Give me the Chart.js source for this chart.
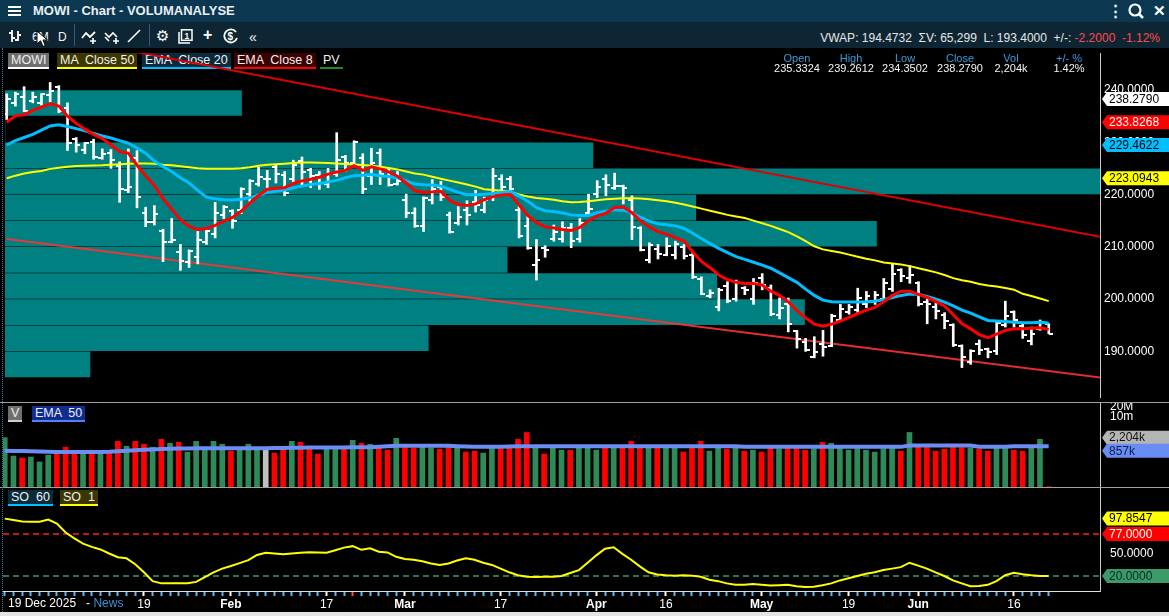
<!DOCTYPE html>
<html>
<head>
<meta charset="utf-8">
<title>MOWI - Chart - VOLUMANALYSE</title>
<script src="https://cdn.jsdelivr.net/npm/chart.js"></script>
<style>
  html, body { margin: 0; padding: 0; background: #000; }
  body { width: 1169px; height: 616px; overflow: hidden; position: relative;
         font-family: 'Liberation Sans', Arial, sans-serif; color: #eee; }
  .abs { position: absolute; }
  canvas { position: absolute; left: 0; z-index: 3; }
  #titlebar { left: 0; top: 0; width: 1169px; height: 22px; background: #0b3850; }
  #toolbar { left: 0; top: 22px; width: 1169px; height: 26px; background: #0e2634; }
  .ttl { left: 33px; top: 3px; font-size: 13px; font-weight: bold; color: #e8eef2; }
  .tb { color: #f2f2f2; font-size: 12px; top: 30px; }
  .sep { width: 1px; height: 22px; top: 24px; background: #2b5d7c; }
  .lg { height: 14px; line-height: 14px; font-size: 12.5px; color: #f0f0f0; padding: 0 3px;
        border-bottom: 2px solid; white-space: pre; z-index: 1; }
  .hd { font-size: 11px; color: #3a9ad9; text-align: center; width: 60px; z-index: 5; }
  .hv { font-size: 11px; color: #f4f4f4; text-align: center; width: 60px; z-index: 5; }
  .hline { left: 0; width: 1169px; height: 1px; background: #a0a0a0; z-index: 4; }
</style>
</head>
<body>
<div id="titlebar" class="abs"></div>
<div id="toolbar" class="abs"></div>

<!-- title bar -->
<svg class="abs" style="left:8px;top:5px" width="14" height="12"><rect y="1" width="13" height="2" fill="#fff"/><rect y="5" width="13" height="2" fill="#fff"/><rect y="9" width="13" height="2" fill="#fff"/></svg>
<div class="abs ttl">MOWI - Chart - VOLUMANALYSE</div>
<div class="abs" style="left:1108px;top:2px;font-size:15px;font-weight:bold;color:#fff">&#8942;</div>
<svg class="abs" style="left:1128px;top:3px" width="16" height="16"><circle cx="7" cy="7" r="5.5" fill="none" stroke="#fff" stroke-width="2.2"/><line x1="11" y1="11" x2="15" y2="15" stroke="#fff" stroke-width="2.5"/><text x="5" y="10.5" font-size="8" font-weight="bold" fill="#0b3850" font-family="Liberation Sans">1</text></svg>
<div class="abs" style="left:1153px;top:2px;font-size:15px;font-weight:bold;color:#fff">&#10005;</div>

<!-- toolbar -->
<svg class="abs" style="left:8px;top:29px" width="14" height="14"><path d="M4 1V13M1 4H4M4 9H7M10 2V12M10 6H13M10 11H7" stroke="#fff" stroke-width="1.8" fill="none"/></svg>
<div class="abs tb" style="left:32px">6M</div>
<div class="abs tb" style="left:58px">D</div>
<div class="abs sep" style="left:74px"></div>
<svg class="abs" style="left:81px;top:29px" width="17" height="15"><path d="M1 9L5 4L9 8L14 3" stroke="#fff" stroke-width="1.8" fill="none"/><path d="M12 9V15M9 12H15" stroke="#fff" stroke-width="1.6"/></svg>
<svg class="abs" style="left:104px;top:29px" width="17" height="15"><path d="M1 4L5 8L9 4L13 8M1 8L5 12" stroke="#fff" stroke-width="1.6" fill="none"/><path d="M12 9V15M9 12H15" stroke="#fff" stroke-width="1.6"/></svg>
<svg class="abs" style="left:127px;top:29px" width="14" height="14"><path d="M1 13L13 1" stroke="#fff" stroke-width="1.6"/></svg>
<div class="abs sep" style="left:149px"></div>
<div class="abs" style="left:156px;top:27px;font-size:15px;color:#fff;font-family:'DejaVu Sans'">&#9881;</div>
<svg class="abs" style="left:178px;top:29px" width="15" height="15"><rect x="3.5" y="0.8" width="10.5" height="10.5" fill="none" stroke="#fff" stroke-width="1.5"/><path d="M1 3V14H12" stroke="#fff" stroke-width="1.5" fill="none"/><text x="6.5" y="9.5" font-size="8.5" font-weight="bold" fill="#fff" font-family="Liberation Sans">1</text></svg>
<div class="abs" style="left:203px;top:26px;font-size:16px;font-weight:bold;color:#fff">+</div>
<svg class="abs" style="left:223px;top:28px" width="16" height="16"><path d="M13 4A6.5 6.5 0 1 0 14 10" stroke="#fff" stroke-width="1.8" fill="none"/><text x="4.5" y="12" font-size="10" font-weight="bold" fill="#fff" font-family="Liberation Sans">$</text></svg>
<div class="abs tb" style="left:249px;top:29px;font-size:14px">&#171;</div>
<svg class="abs" style="left:36px;top:30px;z-index:9" width="12" height="18"><path d="M1 1V14L4.5 10.8L7 16.5L9.3 15.5L7 10H11.5Z" fill="#fff" stroke="#000" stroke-width="1"/></svg>
<div class="abs" id="vwap" style="right:9px;top:31px;font-size:12px;color:#e6e6e6;white-space:pre"></div>

<!-- legends (under the canvases so the trend line crosses them) -->
<div class="abs lg" style="left:8px;top:53px;background:#6f6f6f;border-color:#fff">MOWI</div>
<div class="abs lg" style="left:57px;top:53px;background:#3b3700;border-color:#ffff00">MA  Close 50</div>
<div class="abs lg" style="left:142px;top:53px;background:#0a2b3b;border-color:#00bfff">EMA  Close 20</div>
<div class="abs lg" style="left:234px;top:53px;background:#3b0000;border-color:#ff0000">EMA  Close 8</div>
<div class="abs lg" style="left:320px;top:53px;background:#000;border-color:#1e8c1e">PV</div>
<div class="abs lg" style="left:8px;top:406px;background:#6f6f6f;border-color:#cfcfcf">V</div>
<div class="abs lg" style="left:32px;top:406px;background:#0f2d8f;border-color:#5a7cff">EMA  50</div>
<div class="abs lg" style="left:8px;top:490px;background:#0a2b3b;border-color:#00bfff">SO  60</div>
<div class="abs lg" style="left:60px;top:490px;background:#3b3700;border-color:#ffff00">SO  1</div>

<canvas id="price" width="1169" height="354" style="top:48px"></canvas>
<div class="abs hline" style="top:402px"></div>
<canvas id="vol" width="1169" height="84" style="top:403px"></canvas>
<div class="abs hline" style="top:487px"></div>
<canvas id="so" width="1169" height="124" style="top:488px"></canvas>
<div class="abs" style="left:0;top:612px;width:1169px;height:4px;background:#e4e4e4"></div>
<div class="abs" style="left:2px;top:48px;width:0;height:564px;border-left:1px dotted #2f86c0;z-index:4"></div>

<!-- info header -->
<div id="info"></div>

<div class="abs" style="left:8px;top:596px;font-size:12px;color:#fff;white-space:pre;z-index:5">19 Dec 2025   - <span style="color:#3d8fd6">News</span></div>

<script>
// trading days shown on the axis
const tradingDays = {
  '2025-12': [19, 22, 23, 29, 30],
  '2026-01': [2, 5, 6, 7, 8, 9, 12, 13, 14, 15, 16, 19, 20, 21, 22, 23, 26, 27, 28, 29, 30],
  '2026-02': [2, 3, 4, 5, 6, 9, 10, 11, 12, 13, 16, 17, 18, 19, 20, 23, 24, 25, 26, 27],
  '2026-03': [2, 3, 4, 5, 6, 9, 10, 11, 12, 13, 16, 17, 18, 19, 20, 23, 24, 25, 26, 27, 30, 31],
  '2026-04': [1, 7, 8, 9, 10, 13, 14, 15, 16, 17, 20, 21, 22, 23, 24, 27, 28, 29, 30],
  '2026-05': [4, 5, 6, 7, 8, 11, 12, 13, 15, 18, 19, 20, 21, 22, 26, 27, 28, 29],
  '2026-06': [1, 2, 3, 4, 5, 8, 9, 10, 11, 12, 15, 16, 17, 18, 19, 22]
};
const dates = [];
Object.keys(tradingDays).forEach(m => tradingDays[m].forEach(d => dates.push(m + '-' + String(d).padStart(2, '0'))));

const tickDates = ['2026-01-19', '2026-02-02', '2026-02-17', '2026-03-02', '2026-03-17', '2026-04-01',
                   '2026-04-16', '2026-05-04', '2026-05-19', '2026-06-01', '2026-06-16'];
const tickText = ['19', 'Feb', '17', 'Mar', '17', 'Apr', '16', 'May', '19', 'Jun', '16'];
const newsDates = ['2026-02-20'];

const opens = [
  235.3324, 237.5, 238.6, 237.8, 237.5, 239.0, 240.6, 236.5, 230.6, 228.5,
  230.0, 227.0, 228.0, 225.5, 220.8, 227.0, 216.5, 214.8, 213.0, 211.0,
  209.0, 207.0, 208.0, 211.0, 212.5, 216.0, 216.9, 217.0, 220.0, 222.0,
  223.0, 225.2, 223.7, 223.0, 226.5, 224.6, 223.8, 222.0, 224.0, 227.2,
  226.0, 227.0, 223.5, 228.0, 224.5, 222.0, 219.0, 216.5, 214.0, 219.0,
  221.5, 216.0, 214.5, 217.0, 218.5, 217.0, 220.0, 223.0, 222.9, 217.0,
  214.0, 206.5, 209.8, 211.5, 211.5, 213.5, 211.5, 216.5, 220.0, 223.0,
  221.2, 221.6, 219.0, 213.5, 207.5, 209.5, 208.5, 208.5, 210.0, 208.5,
  203.8, 200.5, 198.5, 202.5, 200.0, 202.2, 200.0, 204.0, 202.2, 197.0,
  199.0, 193.8, 191.8, 189.0, 191.5, 191.0, 196.0, 197.5, 198.0, 199.0,
  199.5, 200.0, 202.0, 205.5, 204.0, 203.0, 199.5, 198.5, 197.0, 195.0,
  191.0, 188.0, 191.5, 190.4, 190.0, 195.0, 197.5, 194.8, 192.0, 194.2,
  195.2
];
const highs = [
  239.2612, 239.57, 240.62, 239.57, 239.26, 241.42, 240.8, 237.52, 230.89, 229.96,
  230.58, 228.72, 228.6, 226.25, 228.72, 228.4, 217.57, 217.88, 213.36, 215.4,
  210.45, 209.4, 212.93, 213.24, 218.5, 217.88, 217.08, 221.29, 222.84, 225.2,
  224.6, 225.6, 224.39, 226.56, 227.17, 225.01, 224.39, 225.0, 231.82, 227.48,
  230.27, 227.8, 228.85, 228.72, 225.0, 224.4, 220.05, 217.45, 219.55, 222.84,
  222.53, 216.64, 217.69, 218.81, 220.79, 219.5, 225.0, 223.77, 223.46, 217.88,
  216.0, 211.38, 210.2, 214.16, 214.78, 214.47, 215.4, 220.05, 222.65, 223.77,
  224.08, 221.79, 219.74, 213.85, 210.76, 210.45, 211.69, 211.07, 210.45, 208.9,
  204.25, 201.77, 202.08, 203.32, 203.63, 202.39, 203.94, 204.87, 202.7, 200.23,
  200.2, 194.0, 192.48, 192.8, 194.03, 197.1, 198.98, 198.98, 202.08, 201.46,
  201.46, 203.94, 206.73, 205.8, 206.42, 203.32, 200.23, 199.3, 197.4, 195.27,
  191.24, 190.3, 192.17, 190.62, 195.6, 199.6, 197.74, 195.2, 194.65, 196.0,
  195.27
];
const lows = [
  234.3502, 236.9, 235.85, 237.52, 237.09, 237.71, 235.66, 228.41, 228.1, 227.79,
  226.74, 226.74, 225.0, 218.5, 220.36, 217.45, 213.85, 214.16, 207.16, 210.76,
  205.49, 206.05, 206.73, 210.45, 211.69, 215.4, 213.55, 216.33, 218.5, 221.6,
  220.85, 222.2, 219.74, 222.22, 221.6, 221.29, 220.98, 221.3, 223.46, 224.39,
  225.32, 220.18, 221.91, 221.91, 221.6, 221.8, 215.59, 213.73, 212.92, 218.19,
  218.81, 212.61, 214.16, 214.16, 216.64, 216.5, 218.8, 220.67, 220.36, 211.69,
  209.52, 203.63, 208.0, 211.07, 210.88, 209.83, 210.88, 216.02, 219.43, 219.74,
  220.98, 218.19, 211.38, 209.2, 206.92, 207.66, 208.28, 207.66, 207.66, 203.94,
  200.84, 200.23, 197.75, 199.3, 199.6, 200.84, 198.99, 201.77, 196.82, 196.2,
  193.72, 190.62, 190.0, 188.76, 189.07, 190.9, 195.9, 197.1, 197.4, 198.37,
  198.98, 199.6, 201.46, 203.32, 203.01, 198.68, 195.27, 196.2, 194.34, 190.93,
  186.9, 187.52, 189.38, 188.76, 189.38, 194.65, 194.65, 192.48, 191.24, 194.03,
  193.4
];
const closes = [
  238.279, 239.26, 235.97, 238.64, 239.13, 239.88, 236.0, 229.9, 229.5, 229.8,
  227.18, 227.8, 226.56, 221.0, 221.5, 219.55, 214.78, 216.33, 210.88, 211.38,
  207.35, 209.2, 211.38, 212.93, 216.5, 217.57, 215.0, 221.0, 222.53, 223.27,
  223.0, 224.0, 220.36, 225.63, 224.39, 223.5, 222.22, 224.08, 226.56, 226.0,
  229.96, 220.98, 226.0, 224.0, 221.9, 222.5, 216.5, 213.9, 219.4, 221.0,
  219.6, 212.9, 215.7, 216.0, 217.9, 219.0, 223.5, 221.5, 221.0, 212.0,
  209.8, 207.5, 209.3, 212.9, 213.5, 211.07, 214.5, 217.3, 221.4, 221.9,
  221.6, 221.29, 213.85, 209.4, 210.4, 208.6, 210.14, 210.45, 208.28, 204.25,
  200.97, 201.16, 201.77, 199.6, 203.0, 201.77, 203.0, 202.7, 197.1, 198.2,
  195.3, 192.3, 190.3, 189.8, 190.9, 196.8, 198.06, 198.4, 200.2, 200.5,
  200.84, 203.0, 204.87, 204.5, 204.56, 198.98, 198.98, 197.74, 195.9, 191.24,
  189.0, 190.0, 190.3, 189.8, 195.4, 196.8, 196.0, 193.1, 193.4, 195.6,
  193.4
];
const ma50 = [
  223.0943, 223.6, 224.0, 224.3, 224.5, 224.9, 225.1, 225.3, 225.45, 225.5,
  225.55, 225.6, 225.7, 225.8, 225.9, 225.95, 225.95, 225.9, 225.7, 225.6,
  225.4, 225.2, 225.0, 224.9, 224.9, 224.9, 224.9, 225.0, 225.2, 225.5,
  225.7, 225.8, 225.9, 226.0, 226.1, 226.1, 226.05, 226.0, 225.95, 225.85,
  225.75, 225.65, 225.5, 225.3, 225.05, 224.8, 224.4, 224.0, 223.8, 223.4,
  223.0, 222.65, 222.3, 221.9, 221.5, 221.0, 220.85, 220.7, 220.55, 220.0,
  219.6, 219.35, 219.2, 219.0, 218.7, 218.5, 218.55, 218.7, 218.9, 219.1,
  219.2, 219.3, 219.3, 219.25, 219.1, 218.9, 218.7, 218.4, 218.1, 217.7,
  217.3, 216.9, 216.5, 216.1, 215.8, 215.5, 215.0, 214.5, 214.0, 213.4,
  212.8, 212.0, 211.1, 210.1, 209.5, 209.2, 208.9, 208.5, 208.1, 207.7,
  207.4, 207.0, 206.8, 206.6, 206.3, 205.9, 205.5, 205.1, 204.6, 204.0,
  203.6, 203.3, 202.9, 202.6, 202.4, 202.1, 201.8, 201.0, 200.6, 200.1,
  199.6
];
const ema20 = [
  229.4622, 230.3, 230.9, 231.5, 232.3, 233.1, 233.35, 233.0, 232.6, 232.2,
  231.7, 231.2, 230.8, 230.3, 229.8, 228.9, 227.9, 226.4, 225.3, 224.4,
  223.2, 222.2, 220.8, 219.5, 219.2, 219.0, 218.95, 219.1, 219.4, 219.9,
  220.4, 220.6, 220.85, 221.3, 221.6, 221.9, 222.1, 222.4, 222.7, 223.2,
  223.6, 223.7, 223.8, 223.6, 223.45, 223.2, 222.6, 222.0, 221.85, 221.8,
  221.6, 221.0, 220.4, 219.95, 219.95, 220.05, 220.2, 220.4, 220.55, 219.7,
  218.7, 217.5, 216.9, 216.75, 216.45, 216.1, 216.0, 216.0, 216.5, 216.8,
  217.1, 217.0, 216.5, 215.6, 214.9, 214.4, 214.2, 214.0, 213.5, 212.6,
  211.6, 210.6, 209.7, 208.9, 208.1, 207.6, 207.05, 206.5, 205.9, 205.0,
  204.1, 203.2, 201.9, 200.7, 199.8, 199.5, 199.45, 199.45, 199.45, 199.5,
  199.6, 199.9, 200.3, 200.7, 200.95, 200.9, 200.5, 200.0, 199.4, 198.7,
  197.9, 197.3, 196.6, 195.9, 195.8, 195.7, 195.55, 195.45, 195.45, 195.55,
  195.4
];
const ema8 = [
  233.8268, 235.04, 235.23, 236.1, 236.7, 237.35, 236.9, 235.0, 233.6, 232.5,
  231.5, 230.7, 229.5, 228.2, 227.9, 225.6, 223.6, 221.7, 219.2, 217.2,
  215.2, 213.9, 213.3, 213.5, 214.1, 214.9, 215.6, 216.8, 218.4, 219.8,
  221.0, 221.2, 221.3, 222.1, 222.6, 222.9, 223.3, 223.9, 224.3, 224.6,
  225.5, 224.6, 225.3, 224.9, 224.3, 223.5, 222.2, 220.7, 220.4, 220.5,
  220.6, 218.9, 218.1, 217.9, 218.2, 219.0, 219.6, 219.9, 220.0, 218.0,
  216.0, 214.6, 213.8, 213.6, 213.3, 213.1, 213.7, 215.0, 215.9, 216.4,
  217.5, 217.6, 216.5, 214.9, 213.8, 212.9, 212.4, 211.7, 211.1, 209.0,
  207.2, 206.0, 204.6, 203.7, 203.2, 203.0, 203.0, 202.7, 201.5, 200.7,
  199.5, 197.8, 196.4, 195.2, 194.8, 195.2, 195.8, 196.5, 197.2, 197.9,
  198.4, 199.5, 200.7, 201.5, 201.5, 200.9, 200.3, 199.5, 198.7, 197.0,
  195.3, 194.3, 193.2, 192.6, 193.3, 194.0, 194.3, 194.3, 194.4, 194.5,
  194.2
];
// volume in thousands of shares
const volumes = [
  2204, 590, 513, 550, 387, 633, 782, 1113, 750, 760,
  740, 770, 800, 1698, 1194, 1698, 1375, 1113, 1956, 1475,
  1582, 782, 1698, 1000, 1698, 1375, 839, 966, 1375, 950,
  901, 729, 980, 1698, 1582, 1037, 679, 1020, 1000, 1040,
  1822, 1475, 1375, 1100, 901, 2098, 1080, 1050, 1100, 1060,
  966, 1090, 1060, 782, 839, 729, 1037, 1000, 1060, 1956,
  3202, 1194, 679, 1113, 901, 901, 1080, 1050, 901, 1100,
  1060, 1120, 1698, 1090, 1080, 1100, 1060, 1040, 782, 1100,
  1698, 839, 1070, 966, 1080, 839, 901, 782, 1037, 1000,
  1020, 1050, 901, 1000, 1582, 1475, 1037, 901, 1020, 901,
  782, 1000, 1040, 839, 3202, 1113, 1090, 839, 966, 1100,
  1080, 1060, 966, 839, 1090, 1080, 901, 839, 1037, 1956,
  65.3
];
const volEma50 = [
  857, 850, 840, 830, 815, 800, 790, 785, 782, 782,
  785, 790, 800, 830, 860, 890, 920, 950, 980, 1000,
  1010, 1020, 1030, 1037, 1040, 1040, 1040, 1040, 1040, 1040,
  1040, 1045, 1055, 1065, 1075, 1085, 1090, 1090, 1090, 1095,
  1100, 1100, 1110, 1150, 1200, 1225, 1225, 1225, 1225, 1225,
  1225, 1225, 1200, 1170, 1150, 1140, 1140, 1150, 1170, 1185,
  1190, 1190, 1190, 1190, 1190, 1190, 1190, 1190, 1190, 1190,
  1190, 1190, 1190, 1190, 1190, 1190, 1190, 1190, 1190, 1190,
  1190, 1190, 1190, 1190, 1190, 1140, 1140, 1140, 1140, 1140,
  1140, 1140, 1140, 1140, 1140, 1140, 1140, 1140, 1140, 1140,
  1140, 1140, 1140, 1140, 1250, 1250, 1250, 1250, 1250, 1250,
  1250, 1250, 1150, 1150, 1150, 1150, 1190, 1190, 1190, 1190,
  1190
];
const so1 = [
  97.8547, 96, 94, 93.7, 93.7, 96.5, 91, 79, 71, 64,
  59.5, 56, 50.5, 45.4, 44, 36, 25, 13, 10, 10,
  10, 10.3, 12, 18.5, 25, 30, 33.5, 37.5, 41.5, 48.5,
  51.5, 50.5, 49.5, 50.5, 51.7, 52.2, 52, 51.7, 55, 58.5,
  60.5, 55.5, 57.5, 53, 52, 46, 43, 42, 40, 37,
  35, 37, 41, 44, 42, 38, 35, 30, 25, 21,
  19, 18.5, 19, 19, 20, 24, 28, 38, 48, 57,
  59, 50, 42, 33, 25, 22, 21, 20.5, 21, 20.5,
  19, 15, 13, 10, 8, 8, 9, 8, 7, 7.5,
  8, 6, 5, 5.5, 7.5, 10, 14, 17, 20, 23,
  25, 28, 30, 32, 38, 34, 30, 25, 20, 14,
  10, 6, 6.5, 8, 13, 21, 24.5, 22.5, 21, 20,
  20
];
// price volume profile: bin centre and volume (thousands)
const pvLevels = [187.5, 192.5, 197.5, 202.5, 207.5, 212.5, 217.5, 222.5, 227.5, 232.5, 237.5];
const pvVolume = [543, 2706, 5111, 4550, 3210, 5571, 4416, 7000, 3758, 0, 1512];
// drawn trend lines, [bar index, price]
const upperTrend = [[0, 252.0], [126, 211.9]];
const lowerTrend = [[0, 211.5], [126, 185.0]];

const priceTicks = [190, 200, 210, 220, 230, 240];
const volAxisTicks = [10000, 20000];
const volAxisText = ['10m', '20M'];
const soLevels = { upper: 77, lower: 20, mid: 50 };

const FONT = "'Liberation Sans', Arial, sans-serif";
const X_MIN = -0.2, X_MAX = 125.9;

// header texts from the first bar
document.getElementById('vwap').innerHTML =
  'VWAP: 194.4732  &Sigma;V: 65,299  L: ' + closes[closes.length - 1].toFixed(4) +
  '  +/-: <span style="color:#ff4a4a">' + (closes[closes.length - 1] - closes[closes.length - 2]).toFixed(4) +
  '  -1.12%</span>';
const infoCols = [
  ['Open', opens[0].toFixed(4), 797], ['High', highs[0].toFixed(4), 851], ['Low', lows[0].toFixed(4), 905],
  ['Close', closes[0].toFixed(4), 960], ['Vol', volumes[0].toLocaleString('en-US') + 'k', 1011], ['+/- %', '1.42%', 1069]
];
document.getElementById('info').innerHTML = infoCols.map(c =>
  '<div class="abs hd" style="left:' + (c[2] - 30) + 'px;top:52px">' + c[0] + '</div>' +
  '<div class="abs hv" style="left:' + (c[2] - 30) + 'px;top:62px">' + c[1] + '</div>').join('');

function fitRight(scale) {
  scale.width = 69;
  scale.paddingTop = 0;
  scale.paddingBottom = 0;
}

// arrow shaped value labels on the right axis
const valueTags = {
  id: 'valueTags',
  afterDraw(chart, args, opts) {
    const ctx = chart.ctx;
    const x0 = chart.chartArea.right + 2;
    (opts.tags || []).forEach(t => {
      const py = chart.scales.y.getPixelForValue(t.value);
      ctx.save();
      ctx.beginPath();
      ctx.moveTo(x0, py);
      ctx.lineTo(x0 + 5, py - 7);
      ctx.lineTo(chart.width, py - 7);
      ctx.lineTo(chart.width, py + 7);
      ctx.lineTo(x0 + 5, py + 7);
      ctx.closePath();
      ctx.fillStyle = t.bg;
      ctx.fill();
      ctx.fillStyle = t.fg;
      ctx.font = '12px ' + FONT;
      ctx.textBaseline = 'middle';
      ctx.fillText(t.text, x0 + 7, py + 0.5);
      ctx.restore();
    });
  }
};

function tickImage(side) {
  const c = document.createElement('canvas');
  c.width = 8; c.height = 2;
  const g = c.getContext('2d');
  g.fillStyle = '#ffffff';
  g.fillRect(side === 'left' ? 0 : 4, 0, 4, 2);
  return c;
}

const xy = arr => arr.map((v, i) => ({ x: i, y: v }));
const line = (arr, color, width, order) => ({
  type: 'line', data: xy(arr), borderColor: color, borderWidth: width,
  pointRadius: 0, tension: 0, order: order
});
const trend = (pts, color) => ({
  type: 'line', data: pts.map(p => ({ x: p[0], y: p[1] })), borderColor: color,
  borderWidth: 2, pointRadius: 0, order: 9
});
const hiddenX = { type: 'linear', min: X_MIN, max: X_MAX, display: false, offset: false };
const common = {
  responsive: false, animation: false, events: [],
  layout: { padding: { left: 3, right: 0, top: 0, bottom: 0 } }
};

Chart.defaults.font.family = FONT;

// price panel
new Chart(document.getElementById('price'), {
  type: 'line',
  data: {
    datasets: [
      { type: 'bar', indexAxis: 'y', xAxisID: 'xpv', yAxisID: 'y', grouped: false,
        data: pvLevels.map((p, i) => ({ x: pvVolume[i], y: p })),
        backgroundColor: '#008080', barThickness: 25, order: 10 },
      trend(upperTrend, '#e00000'),
      trend(lowerTrend, 'rgba(255,50,50,0.9)'),
      { type: 'bar', grouped: false, data: dates.map((d, i) => ({ x: i, y: [lows[i], highs[i]] })),
        backgroundColor: '#ffffff', barThickness: 2, order: 8 },
      { type: 'line', showLine: false, data: xy(opens), pointStyle: tickImage('left'), pointRadius: 3, order: 7 },
      { type: 'line', showLine: false, data: xy(closes), pointStyle: tickImage('right'), pointRadius: 3, order: 7 },
      line(ma50, '#ffff00', 2, 3),
      line(ema20, '#00bfff', 3, 2),
      line(ema8, '#ff0000', 3, 1)
    ]
  },
  options: Object.assign({}, common, {
    scales: {
      x: hiddenX,
      xpv: { type: 'linear', axis: 'x', min: 0, max: 7000, display: false, offset: false },
      y: {
        type: 'linear', position: 'right', min: 181.27, max: 247.06, offset: false,
        afterBuildTicks: s => { s.ticks = priceTicks.map(v => ({ value: v })); },
        afterFit: fitRight,
        ticks: { color: '#ffffff', font: { size: 12 }, padding: 4, callback: v => v.toFixed(4) },
        grid: { display: false, drawTicks: false, offset: false },
        border: { display: true, color: '#c8c8c8' }
      }
    },
    plugins: {
      legend: { display: false }, tooltip: { enabled: false },
      valueTags: { tags: [
        { value: ma50[0], text: ma50[0].toFixed(4), bg: '#ffff00', fg: '#000' },
        { value: ema20[0], text: ema20[0].toFixed(4), bg: '#00bfff', fg: '#000' },
        { value: ema8[0], text: ema8[0].toFixed(4), bg: '#ff0000', fg: '#fff' },
        { value: closes[0], text: closes[0].toFixed(4), bg: '#ffffff', fg: '#000' }
      ] }
    }
  }),
  plugins: [valueTags]
});

// volume panel
const volColors = closes.map((c, i) => c > opens[i] ? '#2e8b57' : c < opens[i] ? '#ff0000' : '#c0c0c0');
new Chart(document.getElementById('vol'), {
  type: 'bar',
  data: {
    datasets: [
      { type: 'bar', data: xy(volumes), backgroundColor: volColors, barThickness: 5, grouped: false, order: 2 },
      line(volEma50, '#6b8ef5', 4, 1)
    ]
  },
  options: Object.assign({}, common, {
    scales: {
      x: hiddenX,
      y: {
        type: 'logarithmic', position: 'right', min: 64, max: 26530,
        afterBuildTicks: s => { s.ticks = volAxisTicks.map(v => ({ value: v })); },
        afterFit: fitRight,
        ticks: { color: '#ffffff', font: { size: 12 }, padding: 10, autoSkip: false,
                 callback: v => volAxisText[volAxisTicks.indexOf(v)] },
        grid: { display: false, drawTicks: false },
        border: { display: true, color: '#c8c8c8' }
      }
    },
    plugins: {
      legend: { display: false }, tooltip: { enabled: false },
      valueTags: { tags: [
        { value: volumes[0], text: volumes[0].toLocaleString('en-US') + 'k', bg: '#b4b4b4', fg: '#111' },
        { value: volEma50[0], text: volEma50[0].toLocaleString('en-US') + 'k', bg: '#6a8df5', fg: '#0a1a4a' }
      ] }
    }
  }),
  plugins: [valueTags]
});

// stochastic panel with the date axis
const level = (v, color) => ({
  type: 'line', data: [{ x: X_MIN, y: v }, { x: X_MAX, y: v }], borderColor: color,
  borderWidth: 1.5, borderDash: [6, 4], pointRadius: 0, order: 2
});
const tickIndex = tickDates.map(d => dates.indexOf(d));
const newsIndex = newsDates.map(d => dates.indexOf(d));
new Chart(document.getElementById('so'), {
  type: 'line',
  data: {
    datasets: [
      level(soLevels.upper, '#ff2020'),
      level(soLevels.lower, '#3c9c6c'),
      line(so1, '#ffff00', 2, 1)
    ]
  },
  options: Object.assign({}, common, {
    scales: {
      x: {
        type: 'linear', min: X_MIN, max: X_MAX, offset: false,
        afterBuildTicks: s => { s.ticks = dates.map((d, i) => ({ value: i })); },
        afterFit: s => { s.height = 21; s.paddingLeft = 0; s.paddingRight = 0; },
        ticks: {
          autoSkip: false, maxRotation: 0, minRotation: 0, padding: 1, color: '#ffffff',
          font: c => ({ size: 12, weight: /[A-Z]/.test(tickText[tickIndex.indexOf(c.tick && c.tick.value)] || '') ? 'bold' : 'normal' }),
          callback: v => { const k = tickIndex.indexOf(v); return k >= 0 ? tickText[k] : ''; }
        },
        grid: {
          drawOnChartArea: false, drawTicks: true, tickLength: 5, tickWidth: 2,
          tickColor: c => {
            const v = c.tick ? c.tick.value : -1;
            if (tickIndex.indexOf(v) >= 0) return '#ffffff';
            if (newsIndex.indexOf(v) >= 0) return '#ff5040';
            return '#5fb7f5';
          }
        },
        border: { display: true, color: '#e0e0e0', width: 1 }
      },
      y: {
        type: 'linear', position: 'right', min: -0.36, max: 139.4,
        afterBuildTicks: s => { s.ticks = [{ value: soLevels.mid }]; },
        afterFit: fitRight,
        ticks: { color: '#ffffff', font: { size: 12 }, padding: 10, callback: v => v.toFixed(4) },
        grid: { display: false, drawTicks: false },
        border: { display: true, color: '#c8c8c8' }
      }
    },
    plugins: {
      legend: { display: false }, tooltip: { enabled: false },
      valueTags: { tags: [
        { value: so1[0], text: so1[0].toFixed(4), bg: '#ffff00', fg: '#000' },
        { value: soLevels.upper, text: soLevels.upper.toFixed(4), bg: '#ff0000', fg: '#fff' },
        { value: soLevels.lower, text: soLevels.lower.toFixed(4), bg: '#3a9a6a', fg: '#0a2a1a' }
      ] }
    }
  }),
  plugins: [valueTags]
});
</script>
</body>
</html>
